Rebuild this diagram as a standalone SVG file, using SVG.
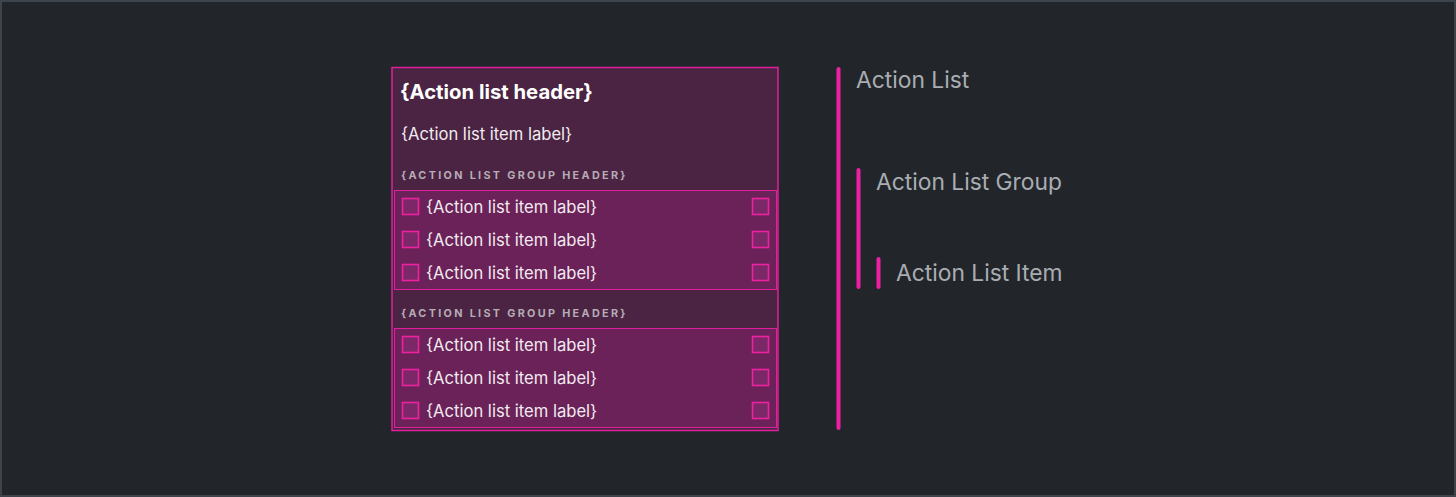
<svg xmlns="http://www.w3.org/2000/svg" width="1456" height="497" viewBox="0 0 1456 497">
<style>
.t{font-family:Inter,"Noto Sans",sans-serif}
.lbl{font-size:16.6px;fill:#f2eaf0}
.gh{font-size:10.8px;font-weight:700;letter-spacing:2.33px;fill:#b7abb6}
.cb{fill:#7c2868;stroke:#ec22a2;stroke-width:1.6}
.grp{fill:#6b2258;stroke:#e01f9c;stroke-width:1}
.side{font-size:22.8px;fill:#a9adb2}
.bar{stroke:#ef1fa3;stroke-width:4;stroke-linecap:round}
</style>
<rect x="1" y="1" width="1454" height="495" fill="#22262b" stroke="#3e444b" stroke-width="2"/>
<g id="action-list">
<rect x="392" y="67.5" width="386" height="363" fill="#4a2442" stroke="#e01f9c" stroke-width="1.5"/>
<text class="t" x="400" y="99" font-size="20.3" font-weight="700" fill="#ffffff">{Action list header}</text>
<text class="t lbl" x="401" y="140">{Action list item label}</text>
<text class="t gh" x="401" y="179">{ACTION LIST GROUP HEADER}</text>
<text class="t gh" x="401" y="317">{ACTION LIST GROUP HEADER}</text>
</g>
<g id="group-1">
<rect class="grp" x="394.5" y="190.5" width="382" height="99"/>
<g id="item-1-1"><rect class="cb" x="402.5" y="198.5" width="16" height="16"/><text class="t lbl" x="426" y="212.5">{Action list item label}</text><rect class="cb" x="752.5" y="198.5" width="16" height="16"/></g>
<g id="item-1-2"><rect class="cb" x="402.5" y="231.5" width="16" height="16"/><text class="t lbl" x="426" y="245.5">{Action list item label}</text><rect class="cb" x="752.5" y="231.5" width="16" height="16"/></g>
<g id="item-1-3"><rect class="cb" x="402.5" y="264.5" width="16" height="16"/><text class="t lbl" x="426" y="278.5">{Action list item label}</text><rect class="cb" x="752.5" y="264.5" width="16" height="16"/></g>
</g>
<g id="group-2">
<rect class="grp" x="394.5" y="328.5" width="382" height="99"/>
<g id="item-2-1"><rect class="cb" x="402.5" y="336.5" width="16" height="16"/><text class="t lbl" x="426" y="350.5">{Action list item label}</text><rect class="cb" x="752.5" y="336.5" width="16" height="16"/></g>
<g id="item-2-2"><rect class="cb" x="402.5" y="369.5" width="16" height="16"/><text class="t lbl" x="426" y="383.5">{Action list item label}</text><rect class="cb" x="752.5" y="369.5" width="16" height="16"/></g>
<g id="item-2-3"><rect class="cb" x="402.5" y="402.5" width="16" height="16"/><text class="t lbl" x="426" y="416.5">{Action list item label}</text><rect class="cb" x="752.5" y="402.5" width="16" height="16"/></g>
</g>
<g id="legend">
<line class="bar" x1="838.5" y1="69" x2="838.5" y2="428"/>
<text class="t side" x="856" y="88">Action List</text>
<line class="bar" x1="858.5" y1="170" x2="858.5" y2="287"/>
<text class="t side" x="876" y="190">Action List Group</text>
<line class="bar" x1="878.5" y1="259" x2="878.5" y2="287"/>
<text class="t side" x="896" y="281">Action List Item</text>
</g>
</svg>
